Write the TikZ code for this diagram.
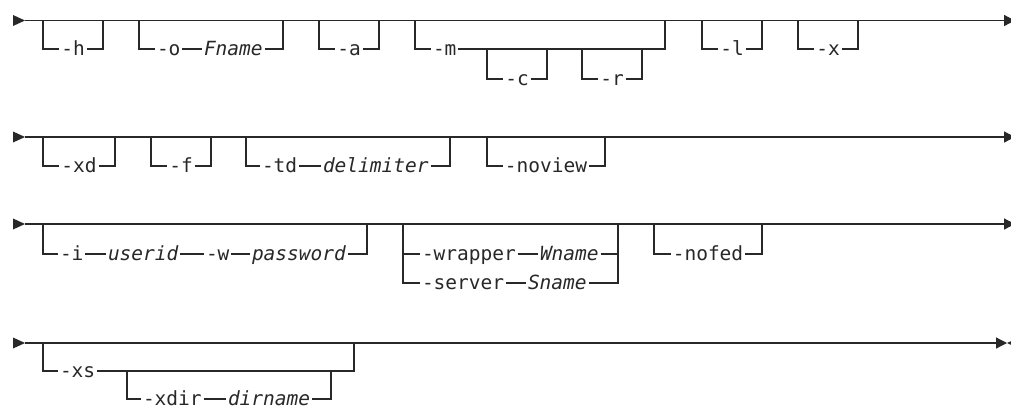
\documentclass[tikz,border=0pt]{standalone}
\usepackage{fontspec}
\setmonofont{DejaVu Sans Mono}
\usepackage{tikz}
\usetikzlibrary{arrows.meta,shapes.geometric}
\definecolor{railgray}{RGB}{40,40,40}

\begin{document}
\begin{tikzpicture}[x=1pt, y=-1pt,
    rail/.style={line width=1.2pt, draw=railgray},
    endrail/.style={rail, -{Triangle[length=11pt, width=11pt]}},
    opt/.style={font=\fontsize{19.5}{22}\selectfont\ttfamily, text=railgray,
        inner xsep=2pt, inner ysep=0pt, text height=13pt, text depth=0pt,
        outer sep=0pt},
    var/.style={opt, font=\fontsize{19.5}{22}\selectfont\ttfamily\itshape},
    startmark/.style={isosceles triangle, isosceles triangle stretches,
        fill=railgray, inner sep=0pt, outer sep=0pt, minimum width=11pt,
        minimum height=12pt, anchor=apex}
]
\path[use as bounding box, fill=white] (0,0) rectangle (1011,408);

% row 1
\node[startmark] (s1) at (25,20.5) {};
\coordinate (e1) at (1015,20.5);
\draw[endrail] (s1.apex) -- (e1);
\coordinate (hL) at (43,20.5);  \coordinate (hR) at (103,20.5);
\coordinate (oL) at (139,20.5); \coordinate (oR) at (283,20.5);
\coordinate (aL) at (319,20.5); \coordinate (aR) at (379,20.5);
\coordinate (mL) at (415,20.5); \coordinate (mR) at (665,20.5);
\coordinate (cL) at (487,49);   \coordinate (cR) at (547,49);
\coordinate (rL) at (582,49);   \coordinate (rR) at (642,49);
\coordinate (lL) at (702,20.5); \coordinate (lR) at (762,20.5);
\coordinate (xL) at (798,20.5); \coordinate (xR) at (858,20.5);
\node[opt] (h) at (73,49) {-h};
\node[opt, anchor=west] (o) at (155,49) {-o};
\node[var, anchor=west] (fname) at (202,49) {Fname};
\node[opt] (a) at (349,49) {-a};
\node[opt, anchor=west] (m) at (431,49) {-m};
\node[opt] (c) at (517,79) {-c};
\node[opt] (r) at (612,79) {-r};
\node[opt] (l) at (732,49) {-l};
\node[opt] (x) at (828,49) {-x};
\draw[rail] (hL) |- (h.west); \draw[rail] (h.east) -| (hR);
\draw[rail] (oL) |- (o.west); \draw[rail] (o.east) -- (fname.west);
\draw[rail] (fname.east) -| (oR);
\draw[rail] (aL) |- (a.west); \draw[rail] (a.east) -| (aR);
\draw[rail] (mL) |- (m.west); \draw[rail] (m.east) -| (mR);
\draw[rail] (cL) |- (c.west); \draw[rail] (c.east) -| (cR);
\draw[rail] (rL) |- (r.west); \draw[rail] (r.east) -| (rR);
\draw[rail] (lL) |- (l.west); \draw[rail] (l.east) -| (lR);
\draw[rail] (xL) |- (x.west); \draw[rail] (x.east) -| (xR);

% row 2
\node[startmark] (s2) at (25,137) {};
\coordinate (e2) at (1015,137);
\draw[endrail] (s2.apex) -- (e2);
\coordinate (xdL) at (43,137);  \coordinate (xdR) at (115,137);
\coordinate (fL) at (151,137);  \coordinate (fR) at (211,137);
\coordinate (tdL) at (246,137); \coordinate (tdR) at (450,137);
\coordinate (nvL) at (487,137); \coordinate (nvR) at (605,137);
\node[opt] (xd) at (79,166) {-xd};
\node[opt] (f) at (181,166) {-f};
\node[opt, anchor=west] (td) at (260,166) {-td};
\node[var, anchor=west] (delim) at (321,166) {delimiter};
\node[opt] (noview) at (546,166) {-noview};
\draw[rail] (xdL) |- (xd.west); \draw[rail] (xd.east) -| (xdR);
\draw[rail] (fL) |- (f.west); \draw[rail] (f.east) -| (fR);
\draw[rail] (tdL) |- (td.west); \draw[rail] (td.east) -- (delim.west);
\draw[rail] (delim.east) -| (tdR);
\draw[rail] (nvL) |- (noview.west); \draw[rail] (noview.east) -| (nvR);

% row 3
\node[startmark] (s3) at (25,224) {};
\coordinate (e3) at (1015,224);
\draw[endrail] (s3.apex) -- (e3);
\coordinate (iL) at (43,224);   \coordinate (iR) at (367,224);
\coordinate (wrL) at (403,224); \coordinate (wrR) at (618,224);
\coordinate (nfL) at (654,224); \coordinate (nfR) at (762,224);
\node[opt, anchor=west] (i) at (58,254) {-i};
\node[var, anchor=west] (userid) at (106,254) {userid};
\node[opt, anchor=west] (w) at (204,254) {-w};
\node[var, anchor=west] (passwd) at (250,254) {password};
\node[opt, anchor=west] (wrapper) at (420,254) {-wrapper};
\node[var, anchor=west] (wname) at (538,254) {Wname};
\node[opt, anchor=west] (server) at (420,283) {-server};
\node[var, anchor=west] (sname) at (526,283) {Sname};
\node[opt] (nofed) at (708,254) {-nofed};
\draw[rail] (iL) |- (i.west); \draw[rail] (i.east) -- (userid.west);
\draw[rail] (userid.east) -- (w.west); \draw[rail] (w.east) -- (passwd.west);
\draw[rail] (passwd.east) -| (iR);
\draw[rail] (wrL) |- (server.west); \draw[rail] (wrL) |- (wrapper.west);
\draw[rail] (wrapper.east) -- (wname.west); \draw[rail] (wname.east) -| (wrR);
\draw[rail] (server.east) -- (sname.west); \draw[rail] (sname.east) -| (wrR);
\draw[rail] (nfL) |- (nofed.west); \draw[rail] (nofed.east) -| (nfR);

% row 4
\node[startmark] (s4) at (25,343) {};
\node[startmark, shape border rotate=180] (stop) at (1007,343) {};
\draw[endrail] (s4.apex) -- (stop.apex);
\coordinate (xsL) at (43,343);  \coordinate (xsR) at (354,343);
\coordinate (xdirL) at (127,371); \coordinate (xdirR) at (331,371);
\node[opt, anchor=west] (xs) at (58,371) {-xs};
\node[opt, anchor=west] (xdir) at (141,399) {-xdir};
\node[var, anchor=west] (dirname) at (226,399) {dirname};
\draw[rail] (xsL) |- (xs.west); \draw[rail] (xs.east) -| (xsR);
\draw[rail] (xdirL) |- (xdir.west); \draw[rail] (xdir.east) -- (dirname.west);
\draw[rail] (dirname.east) -| (xdirR);
\end{tikzpicture}
\end{document}
